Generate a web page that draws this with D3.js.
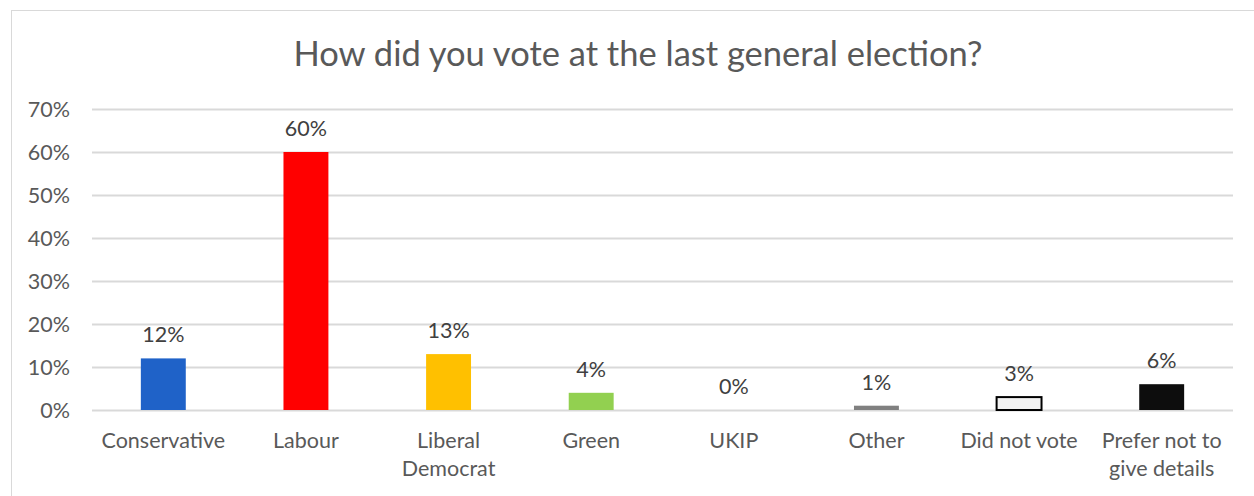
<!DOCTYPE html>
<html><head><meta charset="utf-8">
<script src="https://cdn.jsdelivr.net/npm/d3@7"></script>
<style>body{margin:0;background:#fff}svg{display:block}</style>
</head><body>
<script>
const categories = [["Conservative"],["Labour"],["Liberal","Democrat"],["Green"],["UKIP"],["Other"],["Did not vote"],["Prefer not to","give details"]];
const values = [0.12,0.60,0.13,0.04,0.00,0.01,0.03,0.06];
const valueLabels = ["12%","60%","13%","4%","0%","1%","3%","6%"];
const fills = ["#1F62C8","#FF0000","#FFC000","#92D050","#7F7F7F","#808080","#F2F2F2","#0D0D0D"];
const strokes = [null,null,null,null,null,null,"#000000",null];
const tickValues = [0,0.1,0.2,0.3,0.4,0.5,0.6,0.7];
const title = "How did you vote at the last general election?";

const W=1254,H=496;
const font = "Lato, 'Open Sans', sans-serif";
const svg=d3.select("body").append("svg").attr("width",W).attr("height",H);
svg.append("rect").attr("x",11.5).attr("y",10.5).attr("width",W).attr("height",H).attr("fill","#fff").attr("stroke","#d9d9d9");

const x=d3.scaleBand().domain(d3.range(categories.length)).range([92,1233]).padding(0);
const y=d3.scaleLinear().domain([0,0.7]).range([410,109]);

svg.append("text").attr("x",638).attr("y",66).attr("text-anchor","middle")
 .attr("font-family",font).attr("font-size",34.5).attr("fill","#595959").text(title);

const g=svg.append("g");
g.selectAll("line.grid").data(tickValues).join("line").attr("class","grid")
 .attr("x1",92).attr("x2",1233).attr("y1",d=>Math.round(y(d))+0.5).attr("y2",d=>Math.round(y(d))+0.5)
 .attr("stroke","#d9d9d9").attr("stroke-width",2);
g.selectAll("text.tick").data(tickValues).join("text").attr("class","tick")
 .attr("x",70).attr("y",d=>y(d)).attr("dy","0.35em").attr("text-anchor","end")
 .attr("font-family",font).attr("font-size",21.5).attr("fill","#595959").text(d3.format(".0%"));

const bw = x.bandwidth()*0.315;
g.selectAll("rect.bar").data(values).join("rect").attr("class","bar")
 .attr("x",(d,i)=>x(i)+x.bandwidth()/2-bw/2).attr("width",bw)
 .attr("y",d=>y(d)).attr("height",d=>y(0)-y(d))
 .attr("fill",(d,i)=>fills[i])
 .attr("stroke",(d,i)=>strokes[i]||"none").attr("stroke-width",2);

g.selectAll("text.val").data(values).join("text").attr("class","val")
 .attr("x",(d,i)=>x(i)+x.bandwidth()/2).attr("y",d=>y(d)-16)
 .attr("text-anchor","middle").attr("font-family",font).attr("font-size",21.5).attr("fill","#404040")
 .text((d,i)=>valueLabels[i]);

const cl=g.selectAll("text.cat").data(categories).join("text").attr("class","cat")
 .attr("x",(d,i)=>x(i)+x.bandwidth()/2).attr("y",448)
 .attr("text-anchor","middle").attr("font-family",font).attr("font-size",21.5).attr("fill","#595959");
cl.selectAll("tspan").data(d=>d).join("tspan")
 .attr("x",function(){return this.parentNode.getAttribute("x");})
 .attr("dy",(d,i)=>i?28:0).text(d=>d);
</script>
</body></html>
